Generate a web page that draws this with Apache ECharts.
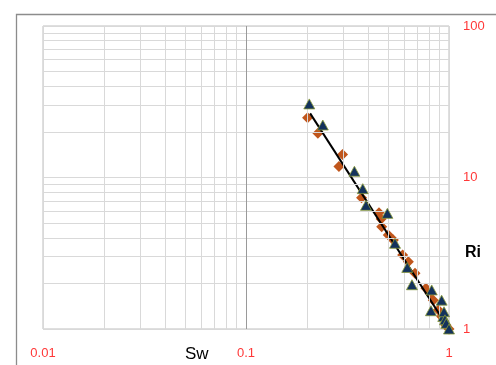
<!DOCTYPE html>
<html><head><meta charset="utf-8">
<script src="https://cdn.jsdelivr.net/npm/echarts@6/dist/echarts.min.js"></script>
<style>html,body{margin:0;padding:0;background:#fff}#c{width:496px;height:365px}</style>
</head><body><div id="c"></div>
<script>
// Data
var triSw = [0.205, 0.239, 0.342, 0.376, 0.390, 0.497, 0.542, 0.623, 0.657, 0.822, 0.815, 0.920, 0.937, 0.945, 0.955, 0.970, 1.0];
var triRi = [30.6, 22.2, 11.0, 8.44, 6.55, 5.80, 3.68, 2.55, 1.96, 1.81, 1.32, 1.55, 1.21, 1.30, 1.15, 1.09, 1.0];
var diaSw = [0.201, 0.226, 0.299, 0.287, 0.371, 0.452, 0.463, 0.466, 0.502, 0.532, 0.591, 0.631, 0.680, 0.770, 0.806, 0.837, 0.886, 0.920, 0.967, 1.0];
var diaRi = [24.8, 19.6, 14.2, 11.8, 7.36, 5.86, 5.32, 4.73, 4.17, 3.87, 3.08, 2.78, 2.33, 1.86, 1.72, 1.55, 1.335, 1.21, 1.06, 1.0];
var fitSw = [0.207, 1.0];
var fitRi = [26.5, 1.0];
// gridline positions (minor decades)
var minorX = [0.02,0.03,0.04,0.05,0.06,0.07,0.08,0.09,0.2,0.3,0.4,0.5,0.6,0.7,0.8,0.9];
var minorY = [2,3,4,5,6,7,8,9,20,30,40,50,60,70,80,90];
var xTicks = [0.01, 0.1, 1];
var yTicks = [1, 10, 100];

function pairs(a, b) { return a.map(function (v, i) { return [v, b[i]]; }); }

var chart = echarts.init(document.getElementById('c'));
var red = '#ff3838';
var gridColor = '#d9d9d9';
var mlData = minorX.map(function (v) { return { xAxis: v }; })
  .concat(minorY.map(function (v) { return { yAxis: v }; }));

chart.setOption({
  animation: false,
  grid: { left: 43, right: 47, top: 26, bottom: 36, show: true, borderColor: '#bfbfbf', borderWidth: 1 },
  xAxis: {
    type: 'log', logBase: 10, min: 0.01, max: 1,
    axisLine: { show: false }, axisTick: { show: false },
    splitLine: { show: true, lineStyle: { color: gridColor, width: 1 } },
    axisLabel: { color: red, fontSize: 13, fontFamily: 'Liberation Sans', margin: 18,
      formatter: function (v) { return xTicks.indexOf(+v.toPrecision(3)) >= 0 ? String(+v.toPrecision(3)) : ''; } }
  },
  yAxis: {
    type: 'log', logBase: 10, min: 1, max: 100, position: 'right',
    axisLine: { show: false }, axisTick: { show: false },
    splitLine: { show: true, lineStyle: { color: gridColor, width: 1 } },
    axisLabel: { color: red, fontSize: 13, fontFamily: 'Liberation Sans', margin: 14, align: 'left',
      formatter: function (v) { return String(+v.toPrecision(3)); } }
  },
  graphic: [
    { type: 'rect', left: 14, top: 12, shape: { width: 520, height: 400 }, style: { fill: 'none', stroke: '#8c8c8c', lineWidth: 1.3 }, silent: true },
    { type: 'text', left: 185, top: 346, style: { text: 'Sw', font: '17px "Liberation Sans"', fill: '#000' } },
    { type: 'text', left: 465, top: 245, style: { text: 'Ri', font: 'bold 16px "Liberation Sans"', fill: '#000' } }
  ],
  series: [
    { type: 'line', data: [], silent: true,
      markLine: { silent: true, symbol: 'none', label: { show: false },
        lineStyle: { color: gridColor, type: 'solid', width: 1 }, data: mlData } },
    { type: 'line', data: [], silent: true,
      markLine: { silent: true, symbol: 'none', label: { show: false },
        lineStyle: { color: '#9a9a9a', type: 'solid', width: 1 }, data: [{ xAxis: 0.1 }] } },
    { type: 'scatter', data: pairs(diaSw, diaRi), symbol: 'diamond', symbolSize: [11, 11],
      itemStyle: { color: '#c0561c', opacity: 1 }, z: 3 },
    { type: 'line', data: pairs(fitSw, fitRi), symbol: 'none',
      lineStyle: { color: '#000', width: 2 }, z: 4 },
    { type: 'scatter', data: pairs(triSw, triRi), symbol: 'triangle', symbolSize: [11, 10],
      itemStyle: { color: '#14325c', borderColor: '#8a9a3a', borderWidth: 0.8, opacity: 1 }, z: 5 }
  ]
});
</script></body></html>
